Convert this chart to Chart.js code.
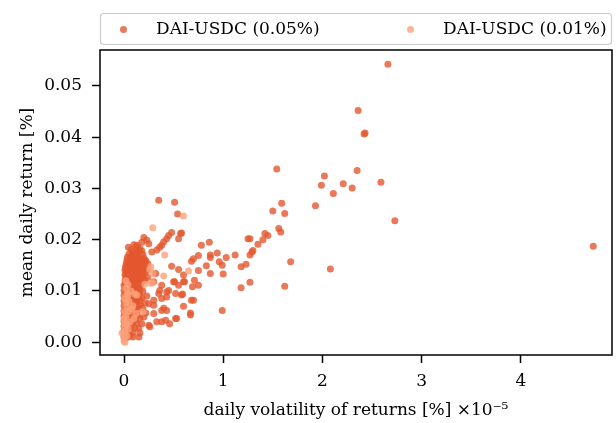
<!DOCTYPE html>
<html>
<head>
<meta charset="utf-8">
<script src="https://cdn.jsdelivr.net/npm/chart.js@4.4.0/dist/chart.umd.min.js"></script>
<style>
  body { margin: 0; background: #fff; }
</style>
</head>
<body>
<canvas id="chart" width="616" height="423"></canvas>
<script>
// [volatility (x1e-5 %), mean daily return (%)]
const dai005 = [
  [2.66,0.0542],[2.36,0.0452],[2.42,0.0406],[2.43,0.0408],[1.54,0.0338],[2.02,0.0324],[1.99,0.0306],
  [2.21,0.0309],[2.30,0.0301],[2.11,0.0290],[2.35,0.0335],[2.59,0.0312],[2.73,0.0237],[4.73,0.0187],
  [1.93,0.0266],[1.59,0.0271],[1.62,0.0251],[1.50,0.0256],[1.56,0.0222],[1.58,0.0215],[1.42,0.0212],
  [1.45,0.0208],[1.40,0.0200],[1.35,0.0191],[1.29,0.0176],[1.30,0.0179],[1.27,0.0202],[1.25,0.0202],
  [1.68,0.0157],[2.08,0.0143],[1.27,0.0170],[1.62,0.0109],[1.27,0.0117],[1.18,0.0106],[1.23,0.0152],
  [1.18,0.0147],[1.12,0.0170],[0.99,0.0062],[1.03,0.0165],[1.00,0.0133],[0.94,0.0174],[0.99,0.0150],
  [0.96,0.0157],[0.86,0.0195],[0.78,0.0189],[0.87,0.0170],[0.87,0.0165],[0.75,0.0169],[0.68,0.0158],
  [0.70,0.0163],[0.83,0.0149],[0.75,0.0140],[0.87,0.0134],[0.58,0.0213],[0.61,0.0118],[0.71,0.0121],
  [0.75,0.0111],[0.69,0.0108],[0.59,0.0094],[0.70,0.0082],[0.60,0.0070],[0.67,0.0057],[0.60,0.0131],
  [0.35,0.0277],[0.51,0.0273],[0.54,0.0250],[0.48,0.0214],[0.57,0.0212],[0.43,0.0202],[0.38,0.0189],
  [0.33,0.0180],[0.20,0.0204],[0.23,0.0199],[0.13,0.0189],[0.15,0.0180],[0.55,0.0202],[0.28,0.0176],
  [0.21,0.0160],[0.20,0.0144],[0.32,0.0134],[0.48,0.0148],[0.55,0.0142],[0.30,0.0118],[0.51,0.0118],
  [0.60,0.0118],[0.36,0.0101],[0.45,0.0101],[0.43,0.0088],[0.58,0.0092],[0.68,0.0082],
  [0.30,0.0072],[0.40,0.0066],[0.53,0.0046],[0.67,0.0053],[0.46,0.0036],[0.38,0.0040],[0.26,0.0030],
  [0.16,0.0018],[0.09,0.0010],[0.15,0.0027],[0.25,0.0033],[0.33,0.0040],[0.42,0.0043],[0.52,0.0046],
  [0.30,0.0056],[0.38,0.0062],[0.43,0.0062],[0.35,0.0095],[0.43,0.0098],[0.38,0.0085],[0.30,0.0082],
  [0.25,0.0075],[0.50,0.0118],[0.55,0.0111],[0.38,0.0111],[0.52,0.0095],[0.16,0.0082],[0.20,0.0049],
  [0.15,0.0010],[0.45,0.0208],[0.40,0.0196],[0.36,0.0185],[0.25,0.0192],[0.18,0.0195],
  [0.10,0.0190],[0.13,0.0186],[0.07,0.0181],[0.11,0.0178],[0.16,0.0183],[0.05,0.0172],[0.08,0.0169],
  [0.12,0.0173],[0.15,0.0167],[0.19,0.0171],[0.03,0.0161],[0.06,0.0158],[0.09,0.0163],[0.12,0.0157],
  [0.15,0.0161],[0.18,0.0155],[0.22,0.0159],[0.02,0.0150],[0.05,0.0147],[0.08,0.0152],[0.11,0.0148],
  [0.14,0.0151],[0.17,0.0146],[0.21,0.0150],[0.24,0.0153],[0.01,0.0141],[0.04,0.0138],[0.07,0.0143],
  [0.10,0.0139],[0.13,0.0142],[0.16,0.0137],[0.23,0.0140],[0.01,0.0131],[0.03,0.0128],[0.06,0.0133],
  [0.09,0.0129],[0.12,0.0132],[0.15,0.0127],[0.19,0.0130],[0.24,0.0126],[0.01,0.0121],[0.04,0.0118],
  [0.07,0.0122],[0.10,0.0119],[0.13,0.0123],[0.17,0.0117],[0.21,0.0121],[0.00,0.0111],[0.03,0.0108],
  [0.06,0.0112],[0.09,0.0109],[0.12,0.0112],[0.15,0.0107],[0.00,0.0101],[0.02,0.0098],[0.05,0.0102],
  [0.08,0.0099],[0.11,0.0103],[0.14,0.0097],[0.19,0.0100],[0.00,0.0091],[0.03,0.0088],[0.06,0.0092],
  [0.09,0.0089],[0.13,0.0091],[0.18,0.0087],[0.23,0.0090],[0.00,0.0081],[0.02,0.0078],[0.05,0.0082],
  [0.08,0.0079],[0.12,0.0080],[0.21,0.0077],[0.00,0.0071],[0.03,0.0068],[0.06,0.0072],[0.10,0.0069],
  [0.14,0.0071],[0.19,0.0066],[0.00,0.0061],[0.02,0.0058],[0.05,0.0062],[0.09,0.0059],[0.13,0.0061],
  [0.22,0.0057],[0.00,0.0051],[0.03,0.0048],[0.06,0.0052],[0.11,0.0049],[0.16,0.0047],[0.00,0.0041],
  [0.02,0.0038],[0.05,0.0042],[0.09,0.0039],[0.13,0.0037],[0.18,0.0036],[0.00,0.0031],[0.03,0.0028],
  [0.07,0.0030],[0.11,0.0027],[0.00,0.0021],[0.02,0.0018],[0.05,0.0020],[0.09,0.0019],[0.00,0.0011],
  [0.03,0.0009],[0.06,0.0012],
  [0.045,0.0185],[0.085,0.0176],[0.14,0.0176],[0.18,0.0178],[0.035,0.0166],[0.075,0.0165],[0.105,0.0167],
  [0.135,0.0163],[0.17,0.0162],[0.20,0.0164],[0.025,0.0155],[0.065,0.0154],[0.095,0.0156],[0.125,0.0153],
  [0.16,0.0154],[0.19,0.0152],[0.015,0.0145],[0.055,0.0144],[0.085,0.0146],[0.115,0.0143],[0.145,0.0145],
  [0.19,0.0141],[0.02,0.0135],[0.045,0.0134],[0.075,0.0136],[0.105,0.0134],[0.135,0.0136],[0.17,0.0133],
  [0.21,0.0135],[0.025,0.0125],[0.055,0.0126],[0.085,0.0124],[0.115,0.0127],[0.15,0.0122],[0.19,0.0124],
  [0.015,0.0115],[0.045,0.0114],[0.075,0.0116],[0.105,0.0114],[0.135,0.0117],[0.17,0.0112],[0.02,0.0105],
  [0.065,0.0106],[0.095,0.0104],[0.125,0.0107],[0.16,0.0102],[0.045,0.0095],[0.075,0.0094],[0.11,0.0096],
  [0.155,0.0093],[0.035,0.0085],[0.065,0.0086],[0.10,0.0084],[0.145,0.0085],[0.045,0.0075],[0.08,0.0074],
  [0.12,0.0075],[0.165,0.0073],[0.035,0.0065],[0.07,0.0064],[0.11,0.0066],[0.04,0.0055],[0.085,0.0054],
  [0.135,0.0053],[0.035,0.0045],[0.07,0.0046],[0.115,0.0044]
];

const dai001 = [
  [0.60,0.0246],[0.65,0.0139],[0.29,0.0223],[0.41,0.0170],[0.27,0.0147],[0.40,0.0129],[0.29,0.0134],
  [0.26,0.0142],[0.29,0.0116],[0.27,0.0115],[0.21,0.0113],[0.11,0.0094],[0.03,0.0094],[0.03,0.0069],
  [0.10,0.0046],[0.12,0.0056],[0.09,0.0071],[0.04,0.0092],[0.13,0.0092],[0.19,0.0059],[0.01,0.0037],
  [0.01,0.0030],[0.01,0.0022],[0.00,0.0015],[0.00,0.0008],[0.00,0.0002],[0.01,0.0000],[-0.02,0.0018],
  [0.02,0.0050],[0.01,0.0060],[0.02,0.0078],[0.05,0.0080],[0.07,0.0100],[0.04,0.0112],[0.02,0.0105],
  [0.06,0.0040],[0.04,0.0025],[0.03,0.0012],[0.08,0.0065],[0.00,0.0045],[0.01,0.0085],[0.02,0.0120],
  [0.05,0.0060],[0.03,0.0035]
];

const seriesLabels = ['DAI-USDC (0.05%)', 'DAI-USDC (0.01%)'];
const seriesColors = ['rgba(228,87,46,0.8)', 'rgba(252,161,122,0.8)'];
const xTicks = [0, 1, 2, 3, 4];
const yTicks = [0, 0.01, 0.02, 0.03, 0.04, 0.05];
const yTickLabels = ['0.00', '0.01', '0.02', '0.03', '0.04', '0.05'];

const FONT = "'DejaVu Serif', serif";
const toPts = arr => arr.map(p => ({x: p[0], y: p[1]}));

// axes frame + legend box, drawn the matplotlib way
const framePlugin = {
  id: 'frame',
  afterDraw(chart) {
    const {ctx, chartArea: a} = chart;
    ctx.save();
    ctx.strokeStyle = '#000';
    ctx.lineWidth = 1.5;
    ctx.strokeRect(a.left, a.top, a.right - a.left, a.bottom - a.top);

    // legend
    ctx.strokeStyle = '#cccccc';
    ctx.lineWidth = 1.2;
    ctx.beginPath();
    ctx.roundRect(a.left + 0.5, 13.5, a.right - a.left - 1, 31, 3);
    ctx.stroke();
    const itemX = [a.left, a.left + 287];
    ctx.font = '17px ' + FONT;
    ctx.textBaseline = 'middle';
    chart.data.datasets.forEach((ds, i) => {
      const x0 = itemX[i];
      ctx.fillStyle = ds.backgroundColor;
      ctx.beginPath();
      ctx.arc(x0 + 23.5, 29.5, 3.5, 0, Math.PI * 2);
      ctx.fill();
      ctx.fillStyle = '#000';
      ctx.fillText(ds.label, x0 + 56, 29.5);
    });
    ctx.restore();
  }
};

new Chart(document.getElementById('chart').getContext('2d'), {
  type: 'scatter',
  data: {
    datasets: [
      { label: seriesLabels[0], data: toPts(dai005), backgroundColor: seriesColors[0], order: 1 },
      { label: seriesLabels[1], data: toPts(dai001), backgroundColor: seriesColors[1], order: 0 }
    ]
  },
  options: {
    responsive: false,
    animation: false,
    events: [],
    layout: { padding: { top: 50, right: 4, left: 0, bottom: 0 } },
    elements: { point: { radius: 3.5, borderWidth: 0, hoverRadius: 3.5 } },
    plugins: { legend: { display: false }, tooltip: { enabled: false } },
    scales: {
      x: {
        type: 'linear',
        min: -0.242, max: 4.919,
        afterFit: s => { s.height = 68; },
        afterBuildTicks: s => { s.ticks = xTicks.map(v => ({value: v})); },
        border: { display: false },
        grid: { drawOnChartArea: false, drawTicks: true, tickLength: 8, tickWidth: 1.5, tickColor: '#000' },
        ticks: { color: '#000', padding: 8, font: { family: FONT, size: 17 }, maxRotation: 0,
                 callback: v => String(v) },
        title: { display: true, text: 'daily volatility of returns [%] ×10⁻⁵', color: '#000',
                 font: { family: FONT, size: 17 }, padding: { top: 0, bottom: 2 } }
      },
      y: {
        type: 'linear',
        min: -0.0025, max: 0.0570,
        afterFit: s => { s.width = 100; },
        afterBuildTicks: s => { s.ticks = yTicks.map(v => ({value: v})); },
        border: { display: false },
        grid: { drawOnChartArea: false, drawTicks: true, tickLength: 8, tickWidth: 1.5, tickColor: '#000' },
        ticks: { color: '#000', padding: 10, font: { family: FONT, size: 17 },
                 callback: v => yTickLabels[yTicks.indexOf(v)] },
        title: { display: true, text: 'mean daily return [%]', color: '#000',
                 font: { family: FONT, size: 17 }, padding: { top: 17, bottom: 0 } }
      }
    }
  },
  plugins: [framePlugin]
});
</script>
</body>
</html>
